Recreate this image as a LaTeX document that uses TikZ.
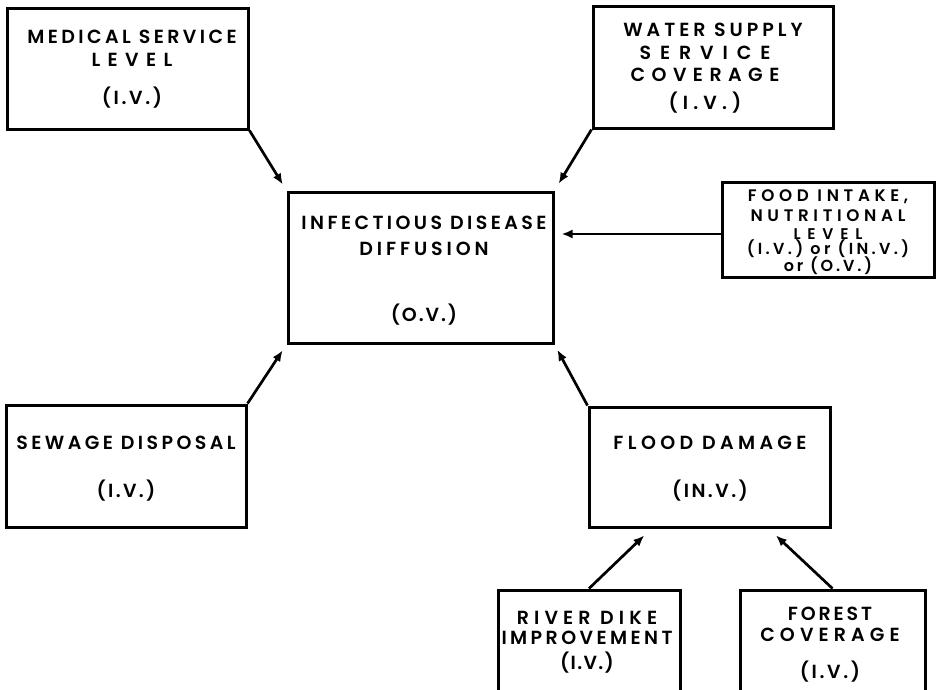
\documentclass[tikz,border=0pt]{standalone}
\usepackage{fontspec}
\setmainfont{Poppins SemiBold}[LetterSpace=18]
\usetikzlibrary{arrows.meta}
\newcommand\txtstack[2]{\vtop{\baselineskip=#1\relax\lineskiplimit=-100pt\lineskip=0pt
  \halign{\hfil##\hfil\cr #2\crcr}}}
\newcommand\lsp[2]{{\addfontfeatures{LetterSpace=#1}#2}}
\begin{document}
\begin{tikzpicture}[x=1pt,y=-1pt,
  box/.style={draw, line width=3pt, rectangle, inner sep=0pt},
  txt/.style={inner sep=0pt, anchor=base, font=\fontsize{19}{23}\selectfont},
  foodtxt/.style={txt, font=\fontsize{16.7}{16}\selectfont\addfontfeatures{LetterSpace=28}},
  link/.style={line width=2.7pt, -{Latex[length=11pt,width=9pt]}}]
\clip (0,0) rectangle (936,689);
% boxes
\node[box, minimum width=241pt, minimum height=121pt] (med) at (127.5,68.5) {};
\node[box, minimum width=240pt, minimum height=122pt] (water) at (713,67) {};
\node[box, minimum width=265pt, minimum height=151pt] (inf) at (420.5,267.5) {};
\node[box, minimum width=212pt, minimum height=95pt] (food) at (828,229.5) {};
\node[box, minimum width=240pt, minimum height=122pt] (sew) at (126,466) {};
\node[box, minimum width=241pt, minimum height=120pt] (flood) at (709.5,467) {};
\node[box, minimum width=182pt, minimum height=102pt] (river) at (589,641) {};
\node[box, minimum width=185pt, minimum height=102pt] (forest) at (832.5,641) {};
% texts
\node[txt] (medt) at (132,43.5)
  {\txtstack{23pt}{MEDICAL SERVICE\cr \lsp{39}{LEVEL}\cr\noalign{\vskip15pt}\lsp{14}{(I.V.)}}};
\node[txt] (watert) at (705,36.5)
  {\txtstack{22.5pt}{\kern16pt\lsp{21}{WATER SUPPLY}\cr \lsp{47}{SERVICE}\cr \lsp{34}{COVERAGE}\cr
   \noalign{\vskip5pt}\lsp{27}{(I.V.)}}};
\node[txt] (inft) at (424,229.5)
  {\txtstack{26pt}{INFECTIOUS DISEASE\cr \lsp{20.5}{DIFFUSION}\cr\noalign{\vskip40pt}\lsp{10}{(O.V.)}}};
\node[foodtxt] (foodt) at (828,201.9)
  {\txtstack{14pt}{FOOD INTAKE,\cr\noalign{\vskip6pt}NUTRITIONAL\cr\noalign{\vskip4pt}%
   {\fontsize{15.5}{14}\selectfont\addfontfeatures{LetterSpace=44}LEVEL}\cr\noalign{\vskip0.6pt}%
   {\fontsize{16}{14}\selectfont\addfontfeatures{LetterSpace=21}(I.V.) or (IN.V.)}\cr\noalign{\vskip3pt}%
   {\fontsize{16}{14}\selectfont\addfontfeatures{LetterSpace=18}or (O.V.)}}};
\node[txt] (sewt) at (126,449.5)
  {\txtstack{48pt}{SEWAGE DISPOSAL\cr \lsp{12}{(I.V.)}}};
\node[txt] (floodt) at (710,449.5)
  {\txtstack{48pt}{\lsp{23}{FLOOD DAMAGE}\cr \lsp{13}{(IN.V.)}}};
\node[txt] (rivert) at (587,624)
  {\txtstack{20pt}{\lsp{27}{RIVER DIKE}\cr IMPROVEMENT\cr\noalign{\vskip5pt}\lsp{7}{(I.V.)}}};
\node[txt] (forestt) at (830,620.5)
  {\txtstack{21pt}{\lsp{15}{FOREST}\cr \lsp{27}{COVERAGE}\cr\noalign{\vskip16pt}\lsp{14}{(I.V.)}}};
% connectors
\draw[link, shorten >=7pt] (med.south east) -- (inf.north west);
\draw[link, shorten >=8pt] (water.south west) -- (inf.north east);
\draw[link, shorten >=7pt] ([yshift=-4.5pt]food.west) -- ([yshift=-4.5pt]food.west -| inf.east);
\draw[link, shorten >=7pt] (sew.north east) -- (inf.south west);
\draw[link, shorten >=6pt] (flood.north west) -- (inf.south east);
\draw[link, shorten >=10pt] (river.north) -- ([xshift=-58pt]flood.south);
\draw[link, shorten >=10pt] (forest.north) -- ([xshift=59pt]flood.south);
\end{tikzpicture}
\end{document}
